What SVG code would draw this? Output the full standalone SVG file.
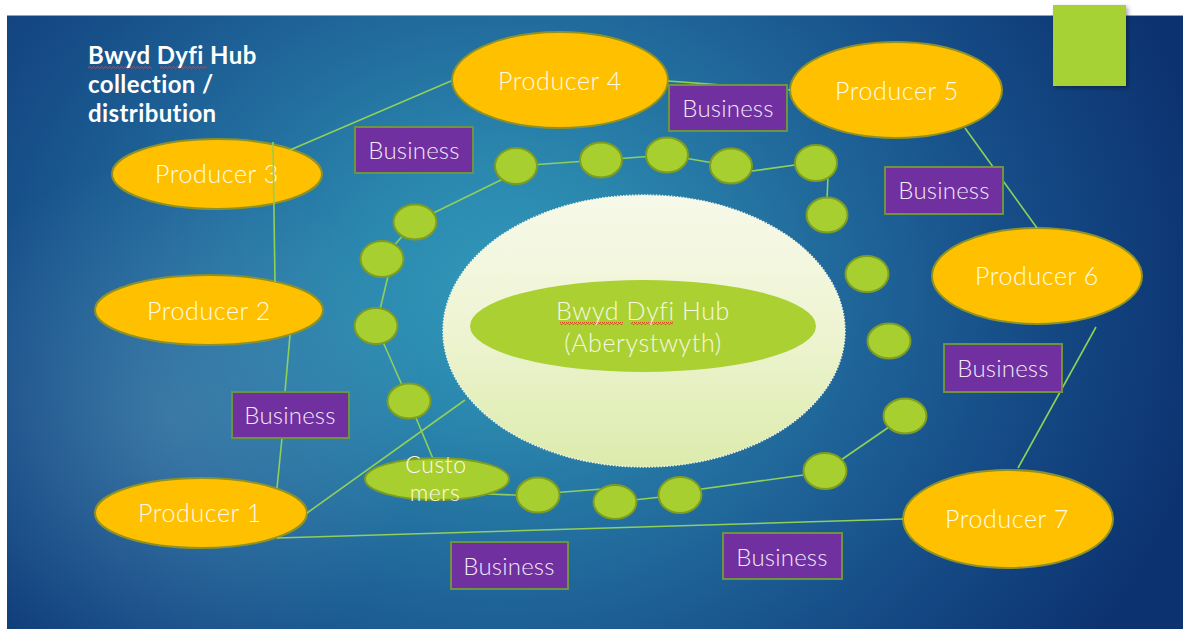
<svg xmlns="http://www.w3.org/2000/svg" width="1183" height="630" viewBox="0 0 1183 630">
  <defs>
    <radialGradient id="bg" gradientUnits="userSpaceOnUse" cx="500" cy="290" r="720" gradientTransform="translate(500 290) scale(1 0.85) translate(-500 -290)">
      <stop offset="0" stop-color="#3199ba"/>
      <stop offset="0.22" stop-color="#2a86ad"/>
      <stop offset="0.48" stop-color="#20679a"/>
      <stop offset="0.75" stop-color="#154a85"/>
      <stop offset="1" stop-color="#0c3370"/>
    </radialGradient>
    <radialGradient id="glow" gradientUnits="userSpaceOnUse" cx="170" cy="420" r="260">
      <stop offset="0" stop-color="#9fc0d8" stop-opacity="0.22"/>
      <stop offset="1" stop-color="#9fc0d8" stop-opacity="0"/>
    </radialGradient>
    <linearGradient id="hubFill" x1="0" y1="0" x2="0" y2="1">
      <stop offset="0" stop-color="#f7f9ea"/>
      <stop offset="0.5" stop-color="#eef4d2"/>
      <stop offset="1" stop-color="#dcebac"/>
    </linearGradient>
    <pattern id="squig" width="4" height="3" patternUnits="userSpaceOnUse">
      <polyline points="0,2.5 1,0.5 2,0.5 3,2.5 4,2.5" fill="none" stroke="#e03a2a" stroke-width="0.9"/>
    </pattern>
    <filter id="shadow" x="-20%" y="-20%" width="150%" height="150%">
      <feDropShadow dx="2" dy="2" stdDeviation="2" flood-color="#000" flood-opacity="0.35"/>
    </filter>
  </defs>
  <style>
    .producer ellipse { fill: #ffc000; stroke: #8c9228; stroke-width: 2; }
    .business rect { fill: #7030a0; stroke: #6f9440; stroke-width: 2; }
    .dot { fill: #a7cf30; stroke: #7c9c24; stroke-width: 2; }
    .lbl { font-family: Lato, "Liberation Sans", sans-serif; font-weight: 300; font-size: 25px; letter-spacing: 0.6px; fill: #fffbea; text-anchor: middle; }
    .blbl { font-family: Lato, "Liberation Sans", sans-serif; font-weight: 300; font-size: 24px; letter-spacing: 0.2px; fill: #f3e8fb; text-anchor: middle; }
    .title { font-family: Lato, "Liberation Sans", sans-serif; font-weight: 700; font-size: 24px; letter-spacing: 0.4px; fill: #ffffff; }
    #connectors line { stroke: #8fd05a; stroke-width: 1.6; }
  </style>

  <!-- slide background -->
  <rect x="0" y="0" width="1183" height="630" fill="#ffffff"/>
  <rect x="7" y="15" width="1176" height="614" fill="url(#bg)"/>
  <rect x="7" y="15" width="1176" height="614" fill="url(#glow)"/>
  <line x1="7" y1="15.5" x2="1183" y2="15.5" stroke="#8aa6bf" stroke-width="1"/>

  <!-- producers -->
  <g id="producer-3" class="producer"><ellipse cx="217" cy="174" rx="105" ry="35"/><text class="lbl" x="217" y="183">Producer 3</text></g>
  <g id="producer-4" class="producer"><ellipse cx="560" cy="80" rx="108" ry="48"/><text class="lbl" x="560" y="90">Producer 4</text></g>
  <g id="producer-5" class="producer"><ellipse cx="896" cy="90" rx="106" ry="48"/><text class="lbl" x="897" y="100">Producer 5</text></g>
  <g id="producer-6" class="producer"><ellipse cx="1037" cy="276" rx="105" ry="48"/><text class="lbl" x="1037" y="285">Producer 6</text></g>
  <g id="producer-2" class="producer"><ellipse cx="209" cy="310" rx="114" ry="35"/><text class="lbl" x="209" y="320">Producer 2</text></g>
  <g id="producer-1" class="producer"><ellipse cx="201" cy="513" rx="106" ry="35"/><text class="lbl" x="200" y="522">Producer 1</text></g>
  <g id="producer-7" class="producer"><ellipse cx="1008" cy="519" rx="105" ry="49"/><text class="lbl" x="1007" y="528">Producer 7</text></g>

  <!-- connecting lines -->
  <g id="connectors">
    <line x1="290" y1="150" x2="451" y2="81"/>
    <line x1="273" y1="142" x2="275" y2="282"/>
    <line x1="290" y1="335" x2="285" y2="392"/>
    <line x1="282" y1="438" x2="277" y2="488"/>
    <line x1="277" y1="538" x2="903" y2="519"/>
    <line x1="307" y1="513" x2="465" y2="400"/>
    <line x1="668" y1="81" x2="790" y2="90"/>
    <line x1="965" y1="128" x2="1037" y2="228"/>
    <line x1="1096" y1="327" x2="1018" y2="468"/>
    <line x1="516" y1="166" x2="601" y2="160"/>
    <line x1="601" y1="160" x2="667" y2="155"/>
    <line x1="667" y1="155" x2="731" y2="166"/>
    <line x1="745" y1="172" x2="802" y2="164"/>
    <line x1="828" y1="176" x2="827" y2="200"/>
    <line x1="505" y1="178" x2="415" y2="222"/>
    <line x1="415" y1="222" x2="382" y2="259"/>
    <line x1="390" y1="268" x2="376" y2="326"/>
    <line x1="376" y1="326" x2="409" y2="401"/>
    <line x1="409" y1="401" x2="436" y2="466"/>
    <line x1="488" y1="494" x2="538" y2="496"/>
    <line x1="538" y1="494" x2="615" y2="488"/>
    <line x1="615" y1="502" x2="680" y2="495"/>
    <line x1="680" y1="492" x2="825" y2="472"/>
    <line x1="825" y1="471" x2="905" y2="416"/>
  </g>

  <!-- business boxes -->
  <g id="business-1" class="business"><rect x="355" y="127" width="118" height="46"/><text class="blbl" x="414" y="159">Business</text></g>
  <g id="business-2" class="business"><rect x="669" y="85" width="118" height="46"/><text class="blbl" x="728" y="117">Business</text></g>
  <g id="business-3" class="business"><rect x="885" y="167" width="118" height="47"/><text class="blbl" x="944" y="199">Business</text></g>
  <g id="business-4" class="business"><rect x="944" y="344" width="118" height="48"/><text class="blbl" x="1003" y="377">Business</text></g>
  <g id="business-5" class="business"><rect x="232" y="392" width="117" height="46"/><text class="blbl" x="290" y="424">Business</text></g>
  <g id="business-6" class="business"><rect x="451" y="542" width="117" height="47"/><text class="blbl" x="509" y="575">Business</text></g>
  <g id="business-7" class="business"><rect x="723" y="533" width="119" height="46"/><text class="blbl" x="782" y="566">Business</text></g>

  <!-- customer drop points -->
  <g id="points">
    <ellipse class="dot" cx="516" cy="166" rx="21" ry="18"/>
    <ellipse class="dot" cx="601" cy="160" rx="21" ry="17.5"/>
    <ellipse class="dot" cx="667" cy="155" rx="21" ry="17.5"/>
    <ellipse class="dot" cx="731" cy="166" rx="21" ry="17.5"/>
    <ellipse class="dot" cx="816" cy="163" rx="21" ry="18"/>
    <ellipse class="dot" cx="827" cy="215" rx="20.5" ry="17.5"/>
    <ellipse class="dot" cx="867" cy="274" rx="21.5" ry="18"/>
    <ellipse class="dot" cx="889" cy="341" rx="21.5" ry="17.5"/>
    <ellipse class="dot" cx="905" cy="416" rx="21.5" ry="17.5"/>
    <ellipse class="dot" cx="825" cy="471" rx="21.5" ry="18"/>
    <ellipse class="dot" cx="680" cy="495" rx="21.5" ry="18"/>
    <ellipse class="dot" cx="615" cy="502" rx="21.5" ry="17"/>
    <ellipse class="dot" cx="538" cy="495" rx="21.5" ry="17.5"/>
    <ellipse class="dot" cx="415" cy="222" rx="21.5" ry="17.5"/>
    <ellipse class="dot" cx="382" cy="259" rx="21.5" ry="18"/>
    <ellipse class="dot" cx="376" cy="326" rx="21.5" ry="18"/>
    <ellipse class="dot" cx="409" cy="401" rx="21.5" ry="17.5"/>
  </g>

  <g id="customers">
    <ellipse class="dot" cx="437" cy="479" rx="72" ry="21"/>
    <text class="lbl" x="436" y="473" style="font-size:23px">Custo</text>
    <text class="lbl" x="435" y="501" style="font-size:23px">mers</text>
  </g>

  <!-- central hub -->
  <g id="hub">
    <ellipse cx="644" cy="331" rx="201" ry="136" fill="url(#hubFill)" stroke="#f4f7e4" stroke-width="1.5" stroke-dasharray="1.5 1.5"/>
    <ellipse cx="643" cy="326" rx="173" ry="46" fill="#abd032"/>
    <rect x="560" y="322" width="63" height="3" fill="url(#squig)"/>
    <rect x="631" y="322" width="42" height="3" fill="url(#squig)"/>
    <text class="lbl" x="643" y="320" style="fill:#f6f8e2">Bwyd Dyfi Hub</text>
    <text class="lbl" x="643" y="352" style="fill:#f6f8e2">(Aberystwyth)</text>
  </g>

  <!-- heading -->
  <g id="title">
    <rect x="88" y="66" width="64" height="3" fill="url(#squig)"/>
    <rect x="160" y="66" width="47" height="3" fill="url(#squig)"/>
    <text class="title" x="88" y="64">Bwyd Dyfi Hub</text>
    <text class="title" x="88" y="93">collection /</text>
    <text class="title" x="88" y="122">distribution</text>
  </g>

  <!-- corner accent -->
  <rect id="accent" x="1053" y="5" width="73" height="81" fill="#a7d234" filter="url(#shadow)"/>
</svg>
